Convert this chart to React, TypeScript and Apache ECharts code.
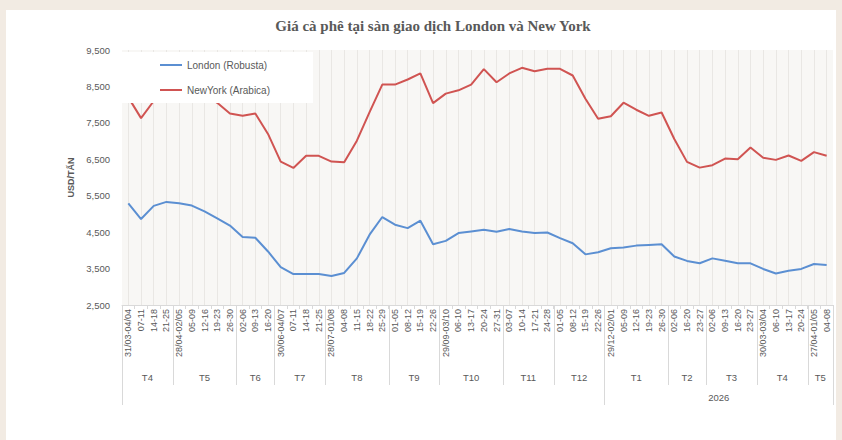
import React, { useEffect, useRef } from 'react';
import * as echarts from 'echarts';

const dateLabels = [
  '31/03-04/04', '07-11', '14-18', '21-25',
  '28/04-02/05', '05-09', '12-16', '19-23', '26-30',
  '02-06', '09-13', '16-20',
  '30/06-04/07', '07-11', '14-18', '21-25',
  '28/07-01/08', '04-08', '11-15', '18-22', '25-29',
  '01-05', '08-12', '15-19', '22-26',
  '29/09-03/10', '06-10', '13-17', '20-24', '27-31',
  '03-07', '10-14', '17-21', '24-28',
  '01-05', '08-12', '15-19', '22-26',
  '29/12-02/01', '05-09', '12-16', '19-23', '26-30',
  '02-06', '16-20', '23-27',
  '02-06', '09-13', '16-20', '23-27',
  '30/03-03/04', '06-10', '13-17', '20-24',
  '27/04-01/05', '04-08',
];

const monthLabels = ['T4', 'T5', 'T6', 'T7', 'T8', 'T9', 'T10', 'T11', 'T12', 'T1', 'T2', 'T3', 'T4', 'T5'];
const monthCounts = [4, 5, 3, 4, 5, 4, 5, 4, 4, 5, 3, 4, 4, 2];
const yearLabels = ['', '2026'];
const yearCounts = [38, 18];

const london = [
  5290, 4860, 5220, 5330, 5295, 5230, 5070, 4880, 4680, 4370, 4345, 3970, 3540, 3350, 3350, 3350, 3295, 3380,
  3780, 4430, 4915, 4705, 4610, 4815, 4170, 4260, 4475, 4520, 4565, 4510, 4585, 4520, 4475, 4490, 4335, 4195, 3890, 3950,
  4060, 4080, 4130, 4150, 4170, 3830, 3710, 3645, 3780, 3715, 3645, 3645, 3490, 3365, 3440, 3490, 3625, 3600,
];

const newyork = [
  8200, 7630, 8100, 8450, 8500, 8350, 8300, 8050, 7757, 7693, 7757, 7196, 6437, 6263, 6595, 6595, 6437, 6420,
  7010, 7793, 8551, 8551, 8690, 8856, 8042, 8302, 8394, 8551, 8975, 8615, 8856, 9011, 8919, 8983, 8983, 8800, 8164, 7611,
  7683, 8053, 7860, 7694, 7785, 7057, 6429, 6271, 6338, 6520, 6504, 6825, 6540, 6484, 6604, 6457, 6697, 6595,
];

const seriesNames = ['London (Robusta)', 'NewYork (Arabica)'];
const yMin = 2500;
const yMax = 9500;
const yLabelStep = 1000;

const GREY = '#595959';
const FONT = 'Liberation Sans';

export default function App() {
  const ref = useRef<HTMLDivElement>(null);

  useEffect(() => {
    const chart = echarts.init(ref.current as HTMLDivElement, null, { renderer: 'svg' });
    chart.setOption({
      animation: false,
      backgroundColor: 'transparent',
      title: {
        text: 'Giá cà phê tại sàn giao dịch London và New York',
        left: 428,
        top: 13,
        textAlign: 'center',
        textStyle: { fontFamily: 'Liberation Serif', fontWeight: 'bold', fontSize: 15, color: GREY },
      },
      legend: {
        orient: 'vertical',
        left: 122,
        top: 52,
        padding: [8, 43, 8, 38],
        itemGap: 15,
        itemWidth: 22,
        itemHeight: 2,
        icon: 'rect',
        backgroundColor: '#ffffff',
        textStyle: { fontFamily: FONT, fontSize: 10, color: GREY },
        data: seriesNames,
      },
      grid: {
        left: 122,
        right: 9,
        top: 50,
        bottom: 135,
        show: true,
        backgroundColor: '#f8f7f5',
        borderWidth: 0,
      },
      xAxis: {
        type: 'category',
        data: dateLabels,
        boundaryGap: true,
        axisLine: { lineStyle: { color: '#d9d9d9' } },
        axisTick: { show: true, length: 4, lineStyle: { color: '#d9d9d9' } },
        axisLabel: { rotate: 90, interval: 0, fontSize: 9, color: GREY, fontFamily: FONT, margin: 4 },
        splitLine: { show: true, alignWithLabel: true, lineStyle: { color: '#e9e7e4', width: 1 } },
      },
      yAxis: {
        type: 'value',
        min: yMin,
        max: yMax,
        interval: 500,
        name: 'USD/TẤN',
        nameLocation: 'middle',
        nameGap: 47,
        nameTextStyle: { fontFamily: FONT, fontWeight: 'bold', fontSize: 9, color: GREY },
        axisLine: { show: false },
        axisTick: { show: false },
        splitLine: { show: false },
        axisLabel: {
          margin: 12,
          fontSize: 9.5,
          fontFamily: FONT,
          color: GREY,
          formatter: (v: number) => ((v - yMin) % yLabelStep === 0 ? v.toLocaleString('en-US') : ''),
        },
      },
      series: [
        {
          name: seriesNames[0],
          type: 'line',
          data: london,
          symbol: 'none',
          lineStyle: { color: '#5b8fd2', width: 2 },
          itemStyle: { color: '#5b8fd2' },
        },
        {
          name: seriesNames[1],
          type: 'line',
          data: newyork,
          symbol: 'none',
          lineStyle: { color: '#d05452', width: 2 },
          itemStyle: { color: '#d05452' },
        },
      ],
    });

    const px = (i: number) => chart.convertToPixel({ xAxisIndex: 0 }, i) as number;
    const band = px(1) - px(0);
    const boundary = (i: number) => (i < dateLabels.length ? px(i) - band / 2 : px(dateLabels.length - 1) + band / 2);
    const yBase = chart.convertToPixel({ yAxisIndex: 0 }, yMin) as number;
    const lineColor = '#d9d9d9';
    const elements: any[] = [];

    const yearStarts = new Set<number>();
    let acc = 0;
    yearStarts.add(0);
    yearCounts.forEach((c) => {
      acc += c;
      yearStarts.add(acc);
    });

    acc = 0;
    const monthBounds = [0];
    monthCounts.forEach((c) => {
      acc += c;
      monthBounds.push(acc);
    });
    monthBounds.forEach((b) => {
      const x = Math.round(boundary(b)) + 0.5;
      const long = yearStarts.has(b);
      elements.push({
        type: 'line',
        silent: true,
        shape: { x1: x, y1: yBase, x2: x, y2: yBase + (long ? 100 : 80) },
        style: { stroke: lineColor, lineWidth: 1 },
      });
    });
    monthLabels.forEach((m, k) => {
      const cx = (boundary(monthBounds[k]) + boundary(monthBounds[k + 1])) / 2;
      elements.push({
        type: 'text',
        silent: true,
        x: cx,
        y: yBase + 72,
        style: {
          text: m,
          fill: GREY,
          fontSize: 9.5,
          fontFamily: FONT,
          textAlign: 'center',
          align: 'center',
          textVerticalAlign: 'middle',
          verticalAlign: 'middle',
        },
      });
    });
    acc = 0;
    yearLabels.forEach((yl, k) => {
      const s = acc;
      acc += yearCounts[k];
      if (!yl) return;
      const cx = (boundary(s) + boundary(acc)) / 2;
      elements.push({
        type: 'text',
        silent: true,
        x: cx,
        y: yBase + 92,
        style: {
          text: yl,
          fill: GREY,
          fontSize: 9.5,
          fontFamily: FONT,
          textAlign: 'center',
          align: 'center',
          textVerticalAlign: 'middle',
          verticalAlign: 'middle',
        },
      });
    });
    chart.setOption({ graphic: elements });

    return () => chart.dispose();
  }, []);

  return (
    <div style={{ position: 'fixed', left: 0, top: 0, width: 842, height: 440, background: '#f2ebe3', overflow: 'hidden' }}>
      <div style={{ position: 'absolute', left: 6, top: 10, width: 830, height: 430, background: '#ffffff' }} />
      <div ref={ref} style={{ position: 'absolute', left: 0, top: 0, width: 842, height: 440 }} />
    </div>
  );
}
